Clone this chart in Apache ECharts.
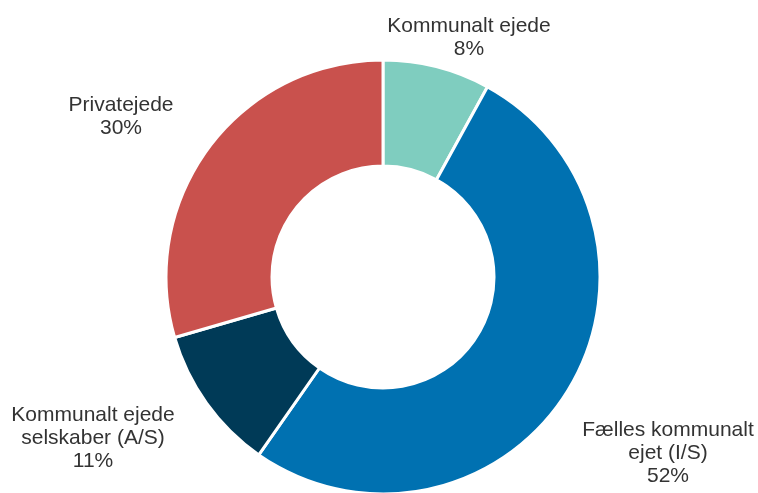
<!DOCTYPE html>
<html>
<head>
<meta charset="utf-8">
<script src="https://cdn.jsdelivr.net/npm/echarts@6/dist/echarts.min.js"></script>
<style>
  html, body { margin: 0; padding: 0; background: #fff; }
  #chart { width: 758px; height: 493px; }
</style>
</head>
<body>
<div id="chart"></div>
<script>
// ejerforhold - andel i procent
const kategorier = ['Kommunalt ejede', 'Fælles kommunalt\nejet (I/S)', 'Kommunalt ejede\nselskaber (A/S)', 'Privatejede']
const andele = [8.0, 51.7, 10.8, 29.5]
const procentTekst = ['8%', '52%', '11%', '30%']
const farver = ['#7fcdbf', '#0071b1', '#003a57', '#c9514d']

// where each label sits (centre of the text block)
const labelAnker = [[469, 38], [668, 453], [93, 438], [121, 117]]

const chartDiv = document.getElementById('chart')
const myChart = echarts.init(chartDiv)

myChart.setOption({
    animation: false,
    series: [
        {
            type: 'pie',
            center: [383, 277],
            radius: [111, 217],
            startAngle: 90,
            clockwise: true,
            avoidLabelOverlap: false,
            itemStyle: {
                borderColor: '#fff',
                borderWidth: 3,
            },
            label: {
                show: true,
                position: 'outside',
                color: '#333',
                fontFamily: 'Liberation Sans, Arial, sans-serif',
                fontSize: 21,
                lineHeight: 23,
                formatter: function (p) {
                    return p.name + '\n' + procentTekst[p.dataIndex]
                },
            },
            labelLine: { show: false },
            labelLayout: function (params) {
                const a = labelAnker[params.dataIndex]
                return {
                    x: a[0],
                    y: a[1],
                    align: 'center',
                    verticalAlign: 'middle',
                }
            },
            emphasis: { disabled: true },
            data: kategorier.map((navn, i) => {
                return {
                    name: navn,
                    value: andele[i],
                    itemStyle: { color: farver[i] },
                }
            }),
        },
    ],
})
</script>
</body>
</html>
